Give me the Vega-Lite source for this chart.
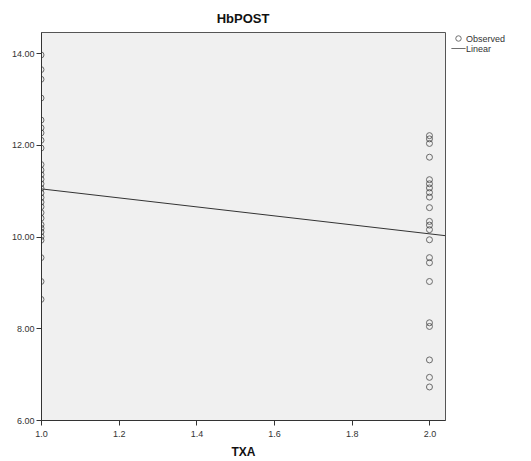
{
  "$schema": "https://vega.github.io/schema/vega-lite/v6.json",
  "autosize": "none",
  "width": 404,
  "height": 388,
  "padding": {"left": 41, "top": 32, "right": 86, "bottom": 41},
  "background": "white",
  "config": {
    "font": "Liberation Sans",
    "view": {"fill": "#f0f0f0", "stroke": "#555555", "strokeWidth": 1},
    "axis": {"grid": false, "domainColor": "#333333", "tickColor": "#333333", "labelColor": "#333333", "labelFontSize": 9, "tickSize": 5, "labelFont": "Liberation Sans", "labelFlush": false, "labelOverlap": false}
  },
  "title": {"text": "HbPOST", "fontSize": 13, "fontWeight": "bold", "color": "#111111", "offset": 6, "anchor": "middle"},
  "datasets": {
    "obs": [
      {"TXA": 1, "HbPOST": 13.96}, {"TXA": 1, "HbPOST": 13.64}, {"TXA": 1, "HbPOST": 13.43}, {"TXA": 1, "HbPOST": 13.02},
      {"TXA": 1, "HbPOST": 12.54}, {"TXA": 1, "HbPOST": 12.37}, {"TXA": 1, "HbPOST": 12.26}, {"TXA": 1, "HbPOST": 12.1},
      {"TXA": 1, "HbPOST": 11.93}, {"TXA": 1, "HbPOST": 11.57}, {"TXA": 1, "HbPOST": 11.45}, {"TXA": 1, "HbPOST": 11.35},
      {"TXA": 1, "HbPOST": 11.25}, {"TXA": 1, "HbPOST": 11.15}, {"TXA": 1, "HbPOST": 11.05}, {"TXA": 1, "HbPOST": 10.95},
      {"TXA": 1, "HbPOST": 10.85}, {"TXA": 1, "HbPOST": 10.75}, {"TXA": 1, "HbPOST": 10.65}, {"TXA": 1, "HbPOST": 10.52},
      {"TXA": 1, "HbPOST": 10.4}, {"TXA": 1, "HbPOST": 10.26}, {"TXA": 1, "HbPOST": 10.18}, {"TXA": 1, "HbPOST": 10.1},
      {"TXA": 1, "HbPOST": 10.0}, {"TXA": 1, "HbPOST": 9.92}, {"TXA": 1, "HbPOST": 9.54}, {"TXA": 1, "HbPOST": 9.02},
      {"TXA": 1, "HbPOST": 8.63},
      {"TXA": 2, "HbPOST": 12.2}, {"TXA": 2, "HbPOST": 12.13}, {"TXA": 2, "HbPOST": 12.03}, {"TXA": 2, "HbPOST": 11.73},
      {"TXA": 2, "HbPOST": 11.24}, {"TXA": 2, "HbPOST": 11.15}, {"TXA": 2, "HbPOST": 11.06}, {"TXA": 2, "HbPOST": 10.96},
      {"TXA": 2, "HbPOST": 10.86}, {"TXA": 2, "HbPOST": 10.63}, {"TXA": 2, "HbPOST": 10.33}, {"TXA": 2, "HbPOST": 10.25},
      {"TXA": 2, "HbPOST": 10.15}, {"TXA": 2, "HbPOST": 9.93}, {"TXA": 2, "HbPOST": 9.54}, {"TXA": 2, "HbPOST": 9.43},
      {"TXA": 2, "HbPOST": 9.02}, {"TXA": 2, "HbPOST": 8.12}, {"TXA": 2, "HbPOST": 8.04}, {"TXA": 2, "HbPOST": 7.31},
      {"TXA": 2, "HbPOST": 6.93}, {"TXA": 2, "HbPOST": 6.72}
    ],
    "fit": [
      {"TXA": 1.0, "HbPOST": 11.04},
      {"TXA": 2.04, "HbPOST": 10.02}
    ]
  },
  "layer": [
    {
      "data": {"name": "fit"},
      "mark": {"type": "line", "color": "#333333", "strokeWidth": 1},
      "encoding": {
        "x": {"field": "TXA", "type": "quantitative"},
        "y": {"field": "HbPOST", "type": "quantitative"}
      }
    },
    {
      "data": {"name": "obs"},
      "transform": [{"calculate": "'Observed'", "as": "series"}],
      "mark": {"type": "point", "filled": false, "stroke": "#333333", "strokeWidth": 1, "size": 36, "clip": true},
      "encoding": {
        "x": {"field": "TXA", "type": "quantitative", "scale": {"domain": [1, 2.04], "nice": false, "zero": false},
              "axis": {"values": [1.0, 1.2, 1.4, 1.6, 1.8, 2.0], "format": ".1f", "title": "TXA", "titleFontSize": 12, "titleFontWeight": "bold", "titleColor": "#111111", "titlePadding": 8, "labelPadding": 4}},
        "y": {"field": "HbPOST", "type": "quantitative", "scale": {"domain": [6, 14.46], "nice": false, "zero": false},
              "axis": {"values": [6, 8, 10, 12, 14], "format": ".2f", "title": null}},
        "shape": {"field": "series", "type": "nominal",
                  "scale": {"domain": ["Observed", "Linear"], "range": ["circle", "M-2.6,0H2.6"]},
                  "legend": {"title": null, "orient": "none", "legendX": 413, "legendY": 2, "labelFontSize": 9, "labelColor": "#333333", "symbolStrokeColor": "#333333", "symbolFillColor": "transparent", "symbolStrokeWidth": 1, "symbolSize": 30, "rowPadding": 0, "labelOffset": 3}}
      }
    }
  ]
}
